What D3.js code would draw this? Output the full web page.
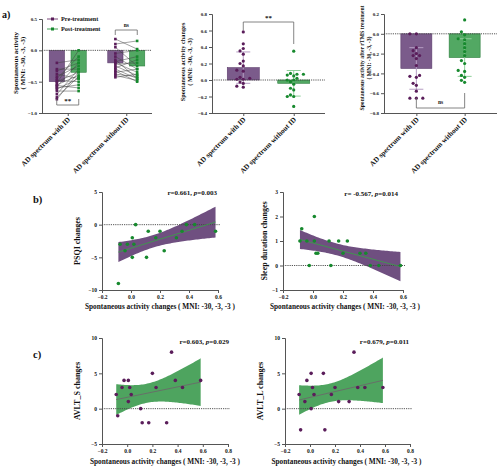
<!DOCTYPE html>
<html><head><meta charset="utf-8">
<script src="https://cdn.jsdelivr.net/npm/d3@7"></script>
<style>
body{margin:0;background:#fff}
text{font-family:"Liberation Serif","Times New Roman",serif;font-weight:bold;fill:#111}
</style>
</head><body><svg id="c" width="500" height="467"></svg>
<script>
// ---------- DATA ----------
const groups = ["AD spectrum with ID", "AD spectrum without ID"];
const treatments = ["Pre-treatment", "Post-treatment"];
const pairMeans = [[-0.5, -0.35], [-0.2, -0.25]];
const preWithID = [-0.2, -0.3, -0.33, -0.38, -0.42, -0.45, -0.48, -0.5, -0.52, -0.55, -0.56, -0.58, -0.6, -0.62, -0.65, -0.7, -0.75, -0.78];
const postWithID = [-0.15, -0.3, -0.2, -0.45, -0.25, -0.1, -0.5, -0.35, 0.0, -0.4, -0.6, -0.2, -0.55, -0.45, -0.65, -0.3, -0.42, -0.35];
const preWithoutID = [0.18, 0.1, 0.05, -0.05, -0.1, -0.15, -0.18, -0.2, -0.22, -0.25, -0.28, -0.3, -0.33, -0.35, -0.38, -0.4, -0.43];
const postWithoutID = [0.02, 0.15, -0.25, 0.0, -0.3, -0.45, -0.1, -0.35, -0.2, -0.4, -0.15, -0.45, -0.5, -0.3, -0.42, -0.48, -0.38];
const changeWithID = [-0.087, -0.075, -0.041, -0.025, 0.009, 0.009, 0.02, 0.032, 0.107, 0.119, 0.171, 0.2, 0.229, 0.313, 0.352, 0.382, 0.439, 0.583];
const changeWithoutID = [0.35, 0.08, 0.07, 0.07, 0.06, 0.05, 0.02, 0.0, 0.0, -0.02, -0.05, -0.1, -0.12, -0.18, -0.2, -0.2, -0.32];
const changeMeans = [0.15, -0.04];
const changeSD = [0.19, 0.155];
const afterWithID = [0.0, 0.0, -0.14, -0.17, -0.2, -0.22, -0.22, -0.25, -0.32, -0.42, -0.43, -0.44, -0.5, -0.52, -0.58, -0.65, -0.65, -0.65];
const afterWithoutID = [0.14, 0.02, -0.01, -0.05, -0.06, -0.1, -0.14, -0.18, -0.22, -0.27, -0.3, -0.37, -0.38, -0.42, -0.44, -0.47, -0.49];
const afterMeans = [-0.35, -0.24];
const afterSD = [0.21, 0.19];
const psqi = [-9, -3, -4, -3, -2, -5, -3, 0, -5, -1, -2, -1, -4, -2, -1, 0, 0, -1];
const sleep = [1, 1.5, 1, 0, 2, 1, 0.5, 0.5, 1, 0, 1, 0.5, 1, 0.5, 0.5, 0, 0, 0];
const avltS = [2, -1, 3, 4, 4, 1, 3, 2, 0, -2, -2, 5, 3, -2, 8, 4, 3, 4];
const avltL = [2, -3, 1, 4, 5, 0, 3, 2, 5, -3, 2, 3, 1, 1, 8, 3, 3, 3];
const aTicks1 = [0.5, 0.0, -0.5, -1.0];
const aTicks2 = [0.8, 0.6, 0.4, 0.2, 0.0, -0.2, -0.4];
const aTicks3 = [0.2, 0.0, -0.2, -0.4, -0.6, -0.8];
const xTicksB = [-0.2, 0.0, 0.2, 0.4, 0.6];
const xTicksC = [-0.2, 0.0, 0.2, 0.4, 0.6, 0.8];

// ---------- STYLE ----------
const C = {
  pBar: "#7b5b8b", pStroke: "#5c3c6c", gBar: "#52a863", gStroke: "#2f7f40",
  pDot: "#5a1d5a", gDot: "#17892e", pErr: "#b59cc2", gErr: "#8fcf9a",
  pBand: "#6f4f80", gBand: "#4ea45f", axis: "#555"
};
const svg = d3.select("#c");
svg.append("rect").attr("width", 500).attr("height", 467).attr("fill", "#fff");

function styleAxis(g, fs) {
  g.select(".domain").attr("stroke", C.axis).attr("stroke-width", 1);
  g.selectAll(".tick line").attr("stroke", C.axis);
  g.selectAll(".tick text").attr("font-size", fs).attr("font-family", "Liberation Serif").attr("font-weight", "bold").attr("fill", "#333");
}

function barFrame(o) {
  const x = d3.scalePoint().domain(groups).range([o.x0, o.x1]).padding(o.pad);
  const y = d3.scaleLinear().domain(o.yDom).range([o.yB, o.yT]);
  const gy = svg.append("g").attr("transform", `translate(${o.x0},0)`)
    .call(d3.axisLeft(y).tickValues(o.ticks).tickFormat(d3.format(".1f")).tickSize(3).tickPadding(2));
  styleAxis(gy, 5);
  const gx = svg.append("g").attr("transform", `translate(0,${o.yB})`)
    .call(d3.axisBottom(x).tickSize(3).tickFormat(""));
  gx.select(".domain").attr("d", `M${o.x0},0.5H${o.x1}`);
  styleAxis(gx, 5);
  groups.forEach(gname => {
    svg.append("text").attr("transform", `translate(${x(gname) + 3},${o.yB + 7}) rotate(-45)`)
      .attr("text-anchor", "end").attr("font-size", 7.2).text(gname);
  });
  o.ylab.forEach((t, i) => {
    svg.append("text").attr("transform", `translate(${o.ylx[i]},${o.yly}) rotate(-90)`)
      .attr("text-anchor", "middle").attr("font-size", o.ylfs).text(t);
  });
  return {x, y};
}

function zeroLine(x0, x1, y0) {
  svg.append("line").attr("x1", x0).attr("x2", x1).attr("y1", y0).attr("y2", y0)
    .attr("stroke", "#444").attr("stroke-width", 0.9).attr("stroke-dasharray", "1.2,1");
}

function swarm(vals, y, r) {
  const placed = [];
  const offs = [];
  const order = d3.range(vals.length).sort((a, b) => vals[a] - vals[b]);
  order.forEach(i => {
    const py = y(vals[i]);
    for (let k = 0; k < 40; k++) {
      const dx = (k === 0 ? 0 : (k % 2 ? -1 : 1) * Math.ceil(k / 2) * r * 1.9);
      if (placed.every(p => (p[0] - dx) ** 2 + (p[1] - py) ** 2 >= (2 * r) ** 2)) {
        placed.push([dx, py]); offs[i] = dx; break;
      }
    }
  });
  return offs;
}

function bracket(pts, txt, tx, ty, fs) {
  svg.append("path").attr("d", d3.line()(pts)).attr("fill", "none").attr("stroke", "#666").attr("stroke-width", 0.8);
  svg.append("text").attr("x", tx).attr("y", ty).attr("text-anchor", "middle").attr("font-size", fs).text(txt);
}

// ---------- PANEL a1 ----------
{
  const f = barFrame({x0: 42, x1: 152, pad: 0.44, yDom: [-1, 0.5], yB: 113, yT: 19, ticks: aTicks1,
    ylab: ["Spontaneous activity", "( MNI: -30, -3, -3)"], ylx: [18, 25], yly: 63, ylfs: 7});
  const sub = d3.scaleBand().domain(treatments).range([-18.5, 18.5]).paddingInner(0.3);
  const cols = [[C.pBar, C.pStroke, C.pDot], [C.gBar, C.gStroke, C.gDot]];
  groups.forEach((g, gi) => {
    treatments.forEach((t, ti) => {
      const v = pairMeans[gi][ti];
      svg.append("rect").attr("x", f.x(g) + sub(t)).attr("width", sub.bandwidth())
        .attr("y", f.y(0)).attr("height", f.y(v) - f.y(0))
        .attr("fill", cols[ti][0]).attr("stroke", cols[ti][1]).attr("stroke-width", 0.6);
    });
  });
  zeroLine(42, 152, f.y(0));
  const sets = [[preWithID, postWithID], [preWithoutID, postWithoutID]];
  groups.forEach((g, gi) => {
    const xp = f.x(g) + sub(treatments[0]) + sub.bandwidth() / 2;
    const xq = f.x(g) + sub(treatments[1]) + sub.bandwidth() / 2;
    sets[gi][0].forEach((v, i) => {
      svg.append("line").attr("x1", xp).attr("y1", f.y(v)).attr("x2", xq).attr("y2", f.y(sets[gi][1][i]))
        .attr("stroke", "#444").attr("stroke-width", 0.5);
    });
    sets[gi][0].forEach(v => svg.append("rect").attr("x", xp - 1.3).attr("y", f.y(v) - 1.3).attr("width", 2.6).attr("height", 2.6).attr("fill", C.pDot));
    sets[gi][1].forEach(v => svg.append("rect").attr("x", xq - 1.3).attr("y", f.y(v) - 1.3).attr("width", 2.6).attr("height", 2.6).attr("fill", C.gDot));
  });
  // legend
  treatments.forEach((t, i) => {
    const ly = 19 + i * 10;
    svg.append("line").attr("x1", 47).attr("x2", 58).attr("y1", ly).attr("y2", ly).attr("stroke", i ? C.gDot : C.pDot).attr("stroke-width", 0.8);
    svg.append("rect").attr("x", 51).attr("y", ly - 1.5).attr("width", 3).attr("height", 3).attr("fill", i ? C.gDot : C.pDot);
    svg.append("text").attr("x", 61).attr("y", ly + 2).attr("font-size", 6.2).text(t);
  });
  const xa = f.x(groups[0]), xb = f.x(groups[1]);
  bracket([[xa - 11, 99], [xa - 11, 105], [xa + 11, 105], [xa + 11, 99]], "**", xa, 102.5, 7);
  bracket([[xb - 11, 35], [xb - 11, 30], [xb + 11, 30], [xb + 11, 35]], "ns", xb, 27, 5.5);
  svg.append("text").attr("x", 2).attr("y", 18).attr("font-size", 10).text("a)");
}

// ---------- PANEL a2 / a3 ----------
function dotBarPanel(o, sets, means, sds) {
  const f = barFrame(o);
  const cols = [[C.pBar, C.pStroke, C.pDot, C.pErr], [C.gBar, C.gStroke, C.gDot, C.gErr]];
  groups.forEach((g, gi) => {
    const cx = f.x(g), bw = o.bw;
    svg.append("rect").attr("x", cx - bw / 2).attr("width", bw)
      .attr("y", Math.min(f.y(0), f.y(means[gi]))).attr("height", Math.abs(f.y(means[gi]) - f.y(0)))
      .attr("fill", cols[gi][0]).attr("stroke", cols[gi][1]).attr("stroke-width", 0.6);
  });
  zeroLine(o.x0, o.x1, f.y(0));
  groups.forEach((g, gi) => {
    const cx = f.x(g);
    const lo = f.y(means[gi] - sds[gi]), hi = f.y(means[gi] + sds[gi]);
    const e = svg.append("g").attr("stroke", cols[gi][3]).attr("stroke-width", 1);
    e.append("line").attr("x1", cx).attr("x2", cx).attr("y1", lo).attr("y2", hi);
    e.append("line").attr("x1", cx - 7).attr("x2", cx + 7).attr("y1", lo).attr("y2", lo);
    e.append("line").attr("x1", cx - 7).attr("x2", cx + 7).attr("y1", hi).attr("y2", hi);
    const offs = swarm(sets[gi], f.y, 1.7);
    sets[gi].forEach((v, i) => svg.append("circle").attr("cx", cx + offs[i]).attr("cy", f.y(v)).attr("r", 1.6).attr("fill", cols[gi][2]));
  });
  return f;
}
{
  const f = dotBarPanel({x0: 212, x1: 325, pad: 0.62, yDom: [-0.4, 0.8], yB: 113, yT: 14, ticks: aTicks2, bw: 32,
    ylab: ["Spontaneous activity changes", "( MNI: -30, -3, -3)"], ylx: [185, 192], yly: 62, ylfs: 6.3},
    [changeWithID, changeWithoutID], changeMeans, changeSD);
  const xa = f.x(groups[0]), xb = f.x(groups[1]);
  bracket([[xa, 30], [xa, 22], [xb, 22], [xb, 44]], "**", (xa + xb) / 2, 20, 7);
}
{
  const f = dotBarPanel({x0: 384, x1: 497, pad: 0.67, yDom: [-0.8, 0.2], yB: 113, yT: 14, ticks: aTicks3, bw: 31,
    ylab: ["Spontaneous activity after rTMS treatment", "( MNI: -30, -3, -3)"], ylx: [364, 371], yly: 58, ylfs: 5.7},
    [afterWithID, afterWithoutID], afterMeans, afterSD);
  const xa = f.x(groups[0]), xb = f.x(groups[1]);
  bracket([[xa, 98], [xa, 108], [xb, 108], [xb, 93]], "ns", (xa + xb) / 2, 104, 5.5);
}

// ---------- SCATTER PANELS ----------
function scatter(o) {
  const x = d3.scaleLinear().domain(o.xDom).range([o.x0, o.x1]);
  const y = d3.scaleLinear().domain(o.yDom).range([o.yB, o.yT]);
  const xs = changeWithID, ys = o.ys, n = xs.length;
  const mx = d3.mean(xs), my = d3.mean(ys);
  const sxx = d3.sum(xs, v => (v - mx) ** 2);
  const sxy = d3.sum(xs, (v, i) => (v - mx) * (ys[i] - my));
  const b = sxy / sxx, a = my - b * mx;
  const s = Math.sqrt(d3.sum(xs, (v, i) => (ys[i] - a - b * v) ** 2) / (n - 2));
  const t = 2.12;
  const [xmin, xmax] = d3.extent(xs);
  const grid = d3.range(0, 61).map(k => xmin + (xmax - xmin) * k / 60);
  const se = v => s * Math.sqrt(1 / n + (v - mx) ** 2 / sxx);
  svg.append("path").datum(grid)
    .attr("d", d3.area().x(v => x(v)).y0(v => y(a + b * v - t * se(v))).y1(v => y(a + b * v + t * se(v))))
    .attr("fill", o.band).attr("stroke", "none");
  zeroLine(o.x0, o.x1 + 2, y(0));
  svg.append("line").attr("x1", x(xmin)).attr("x2", x(xmax)).attr("y1", y(a + b * xmin)).attr("y2", y(a + b * xmax))
    .attr("stroke", o.line).attr("stroke-width", 0.9);
  xs.forEach((v, i) => svg.append("circle").attr("cx", x(v)).attr("cy", y(ys[i])).attr("r", 1.8).attr("fill", o.dot));
  const gy = svg.append("g").attr("transform", `translate(${o.x0},0)`)
    .call(d3.axisLeft(y).tickValues(o.yTicks).tickFormat(d3.format("d")).tickSize(3).tickPadding(2));
  styleAxis(gy, 5.5);
  const gx = svg.append("g").attr("transform", `translate(0,${o.yB})`)
    .call(d3.axisBottom(x).tickValues(o.xTicks).tickFormat(d3.format(".1f")).tickSize(3).tickPadding(2));
  styleAxis(gx, 5.5);
  svg.append("text").attr("transform", `translate(${o.ylx},${(o.yB + o.yT) / 2}) rotate(-90)`)
    .attr("text-anchor", "middle").attr("font-size", 8).text(o.ylab);
  svg.append("text").attr("x", (o.x0 + o.x1) / 2 + o.xtdx).attr("y", o.yB + o.xty).attr("text-anchor", "middle")
    .attr("font-size", 7.3).text("Spontaneous activity changes ( MNI: -30, -3, -3 )");
  const an = svg.append("text").attr("x", o.ax).attr("y", o.ay).attr("text-anchor", "end").attr("font-size", 7);
  an.append("tspan").text(o.r + ", ");
  an.append("tspan").attr("font-style", "italic").text("p");
  an.append("tspan").text("=" + o.p);
}
scatter({x0: 102, x1: 218, yB: 290, yT: 192, xDom: [-0.2, 0.6], yDom: [-10, 5], xTicks: xTicksB, yTicks: [5, 0, -5, -10],
  ys: psqi, band: C.pBand, line: "#3d9a4c", dot: C.gDot, ylab: "PSQI changes", ylx: 80, xtdx: 0, xty: 19,
  ax: 217, ay: 195, r: "r=0.661", p: "0.003"});
scatter({x0: 283, x1: 403, yB: 290, yT: 192, xDom: [-0.2, 0.6], yDom: [-1, 3], xTicks: xTicksB, yTicks: [3, 2, 1, 0, -1],
  ys: sleep, band: C.pBand, line: "#3d9a4c", dot: C.gDot, ylab: "Sleep duration changes", ylx: 267, xtdx: 2, xty: 19,
  ax: 398, ay: 196, r: "r= -0.567", p: "0.014"});
scatter({x0: 102, x1: 228, yB: 444, yT: 338, xDom: [-0.2, 0.8], yDom: [-5, 10], xTicks: xTicksC, yTicks: [10, 5, 0, -5],
  ys: avltS, band: C.gBand, line: "#6a6a6a", dot: C.pDot, ylab: "AVLT_S changes", ylx: 80, xtdx: 0, xty: 20,
  ax: 229, ay: 344, r: "r=0.603", p: "0.029"});
scatter({x0: 285, x1: 410, yB: 444, yT: 338, xDom: [-0.2, 0.8], yDom: [-5, 10], xTicks: xTicksC, yTicks: [10, 5, 0, -5],
  ys: avltL, band: C.gBand, line: "#6a6a6a", dot: C.pDot, ylab: "AVLT_L changes", ylx: 263, xtdx: -1, xty: 20,
  ax: 409, ay: 344, r: "r=0.679", p: "0.011"});
svg.append("text").attr("x", 33).attr("y", 203).attr("font-size", 10.5).text("b)");
svg.append("text").attr("x", 33).attr("y", 358).attr("font-size", 10.5).text("c)");
</script></body></html>
